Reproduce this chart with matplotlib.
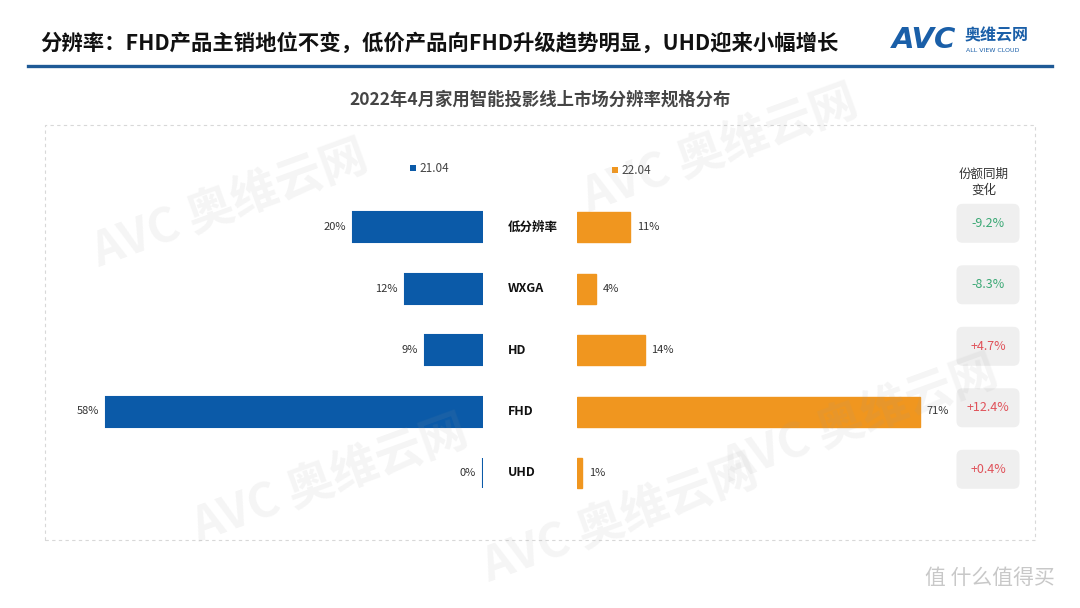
import matplotlib
matplotlib.use("Agg")
import matplotlib.pyplot as plt
from matplotlib.patches import Rectangle, FancyBboxPatch

plt.rcParams['font.family'] = ['Noto Sans CJK SC', 'DejaVu Sans']

# ---------------- data ----------------
categories = ['低分辨率', 'WXGA', 'HD', 'FHD', 'UHD']
share_2104 = [20, 12, 9, 58, 0]
share_2204 = [11, 4, 14, 71, 1]
yoy_change = [-9.2, -8.3, 4.7, 12.4, 0.4]
series_names = ['21.04', '22.04']
title_text = '分辨率：FHD产品主销地位不变，低价产品向FHD升级趋势明显，UHD迎来小幅增长'
subtitle_text = '2022年4月家用智能投影线上市场分辨率规格分布'
change_header = '份额同期\n变化'

W, H = 1080, 608
BLUE = '#0b5aa8'
ORANGE = '#f0961f'
GREEN = '#3aa874'
RED = '#e0525a'


def fx(px):
    return px / W


def fy(py):
    return 1 - py / H


fig = plt.figure(figsize=(W / 100, H / 100), dpi=100)
fig.patch.set_facecolor('white')

# ---------------- header ----------------
fig.text(fx(40), fy(43), title_text, fontsize=15.4, fontweight='bold',
         color='#111111', va='center', ha='left')
fig.add_artist(plt.Line2D([fx(28), fx(1052)], [fy(66), fy(66)],
                          color='#1f5a96', lw=2.4))
# logo
fig.text(fx(892), fy(40), 'AVC', fontsize=21, fontweight='bold', style='italic',
         color='#1a5fa8', va='center', ha='left', family='DejaVu Sans')
fig.text(fx(965), fy(35), '奥维云网', fontsize=11.5, fontweight='bold',
         color='#1a5fa8', va='center', ha='left')
fig.text(fx(966), fy(50), 'ALL VIEW CLOUD', fontsize=4.5,
         color='#1a5fa8', va='center', ha='left', family='DejaVu Sans')

# subtitle
fig.text(fx(540), fy(100), subtitle_text, fontsize=12.5, fontweight='bold',
         color='#454545', va='center', ha='center')

# dashed frame
fig.add_artist(Rectangle((fx(45), fy(540)), fx(1035) - fx(45), fy(125) - fy(540),
                         transform=fig.transFigure, fill=False,
                         ec='#d8d8d8', lw=0.8, ls=(0, (3, 3))))

# ---------------- bar axes ----------------
n = len(categories)
row_px = 61.5
top_px = 227 - row_px / 2
bottom_px = top_px + n * row_px
ypos = list(range(n))

left_scale = 6.5     # px per %
right_scale = 4.83
left_max = 65
right_max = 75
left_left = 483 - left_max * left_scale

axL = fig.add_axes([fx(left_left), fy(bottom_px), left_max * left_scale / W,
                    (bottom_px - top_px) / H])
axR = fig.add_axes([fx(577), fy(bottom_px), right_max * right_scale / W,
                    (bottom_px - top_px) / H])
axB = fig.add_axes([fx(950), fy(bottom_px), 76 / W, (bottom_px - top_px) / H])

for ax in (axL, axR, axB):
    ax.set_ylim(n - 0.5, -0.5)
    ax.axis('off')
axL.set_xlim(left_max, 0)
axR.set_xlim(0, right_max)
axB.set_xlim(0, 1)

bh = 30 / row_px
axL.barh(ypos, share_2104, height=bh, color=BLUE, edgecolor=BLUE, linewidth=1.5)
axR.barh(ypos, share_2204, height=bh, color=ORANGE, edgecolor=ORANGE, linewidth=1.0)

for i, v in enumerate(share_2104):
    axL.annotate(f'{v}%', xy=(v, i), xytext=(-5, 0), textcoords='offset points',
                 ha='right', va='center', fontsize=8, color='#333333')
for i, v in enumerate(share_2204):
    axR.annotate(f'{v}%', xy=(v, i), xytext=(5, 0), textcoords='offset points',
                 ha='left', va='center', fontsize=8, color='#333333')
for i, c in enumerate(categories):
    axR.annotate(c, xy=(508, i), xycoords=('figure pixels', 'data'),
                 ha='left', va='center', fontsize=9, fontweight='bold',
                 color='#111111')

# change boxes
bw_px, bhx_px = 63, 39
bw = bw_px / 76
bhh = bhx_px / row_px
for i, ch in enumerate(yoy_change):
    cx = (988 - 950) / 76
    box = FancyBboxPatch((cx - bw / 2, i - bhh / 2 - 0.06), bw, bhh,
                         boxstyle='round,pad=0,rounding_size=0.08',
                         mutation_aspect=76 / row_px,
                         fc='#efefef', ec='none', clip_on=False)
    axB.add_patch(box)
    axB.text(cx, i - 0.06, f'{ch:+.1f}%', ha='center', va='center', fontsize=9,
             color=GREEN if ch < 0 else RED)

fig.text(fx(984), fy(182), change_header, ha='center', va='center',
         fontsize=9, color='#333333', linespacing=1.3)

# legend
for name, col, x0, y0 in [(series_names[0], BLUE, 410, 168),
                          (series_names[1], ORANGE, 612, 170)]:
    fig.add_artist(Rectangle((fx(x0), fy(y0 + 3)), 6 / W, 6 / H,
                             transform=fig.transFigure, fc=col, ec='none'))
    fig.text(fx(x0 + 9), fy(y0), name, ha='left', va='center', fontsize=8.5,
             color='#444444')

# watermarks
for (wx, wy) in [(230, 205), (720, 150), (330, 480), (860, 420), (620, 520)]:
    fig.text(fx(wx), fy(wy), 'AVC 奥维云网', fontsize=34, fontweight='bold',
             color='#9a9a9a', alpha=0.10, rotation=20, ha='center', va='center',
             zorder=10)
fig.text(fx(990), fy(578), '值 什么值得买', fontsize=15, color='#c8c8c8',
         ha='center', va='center')

fig.savefig('out.png', dpi=100)
